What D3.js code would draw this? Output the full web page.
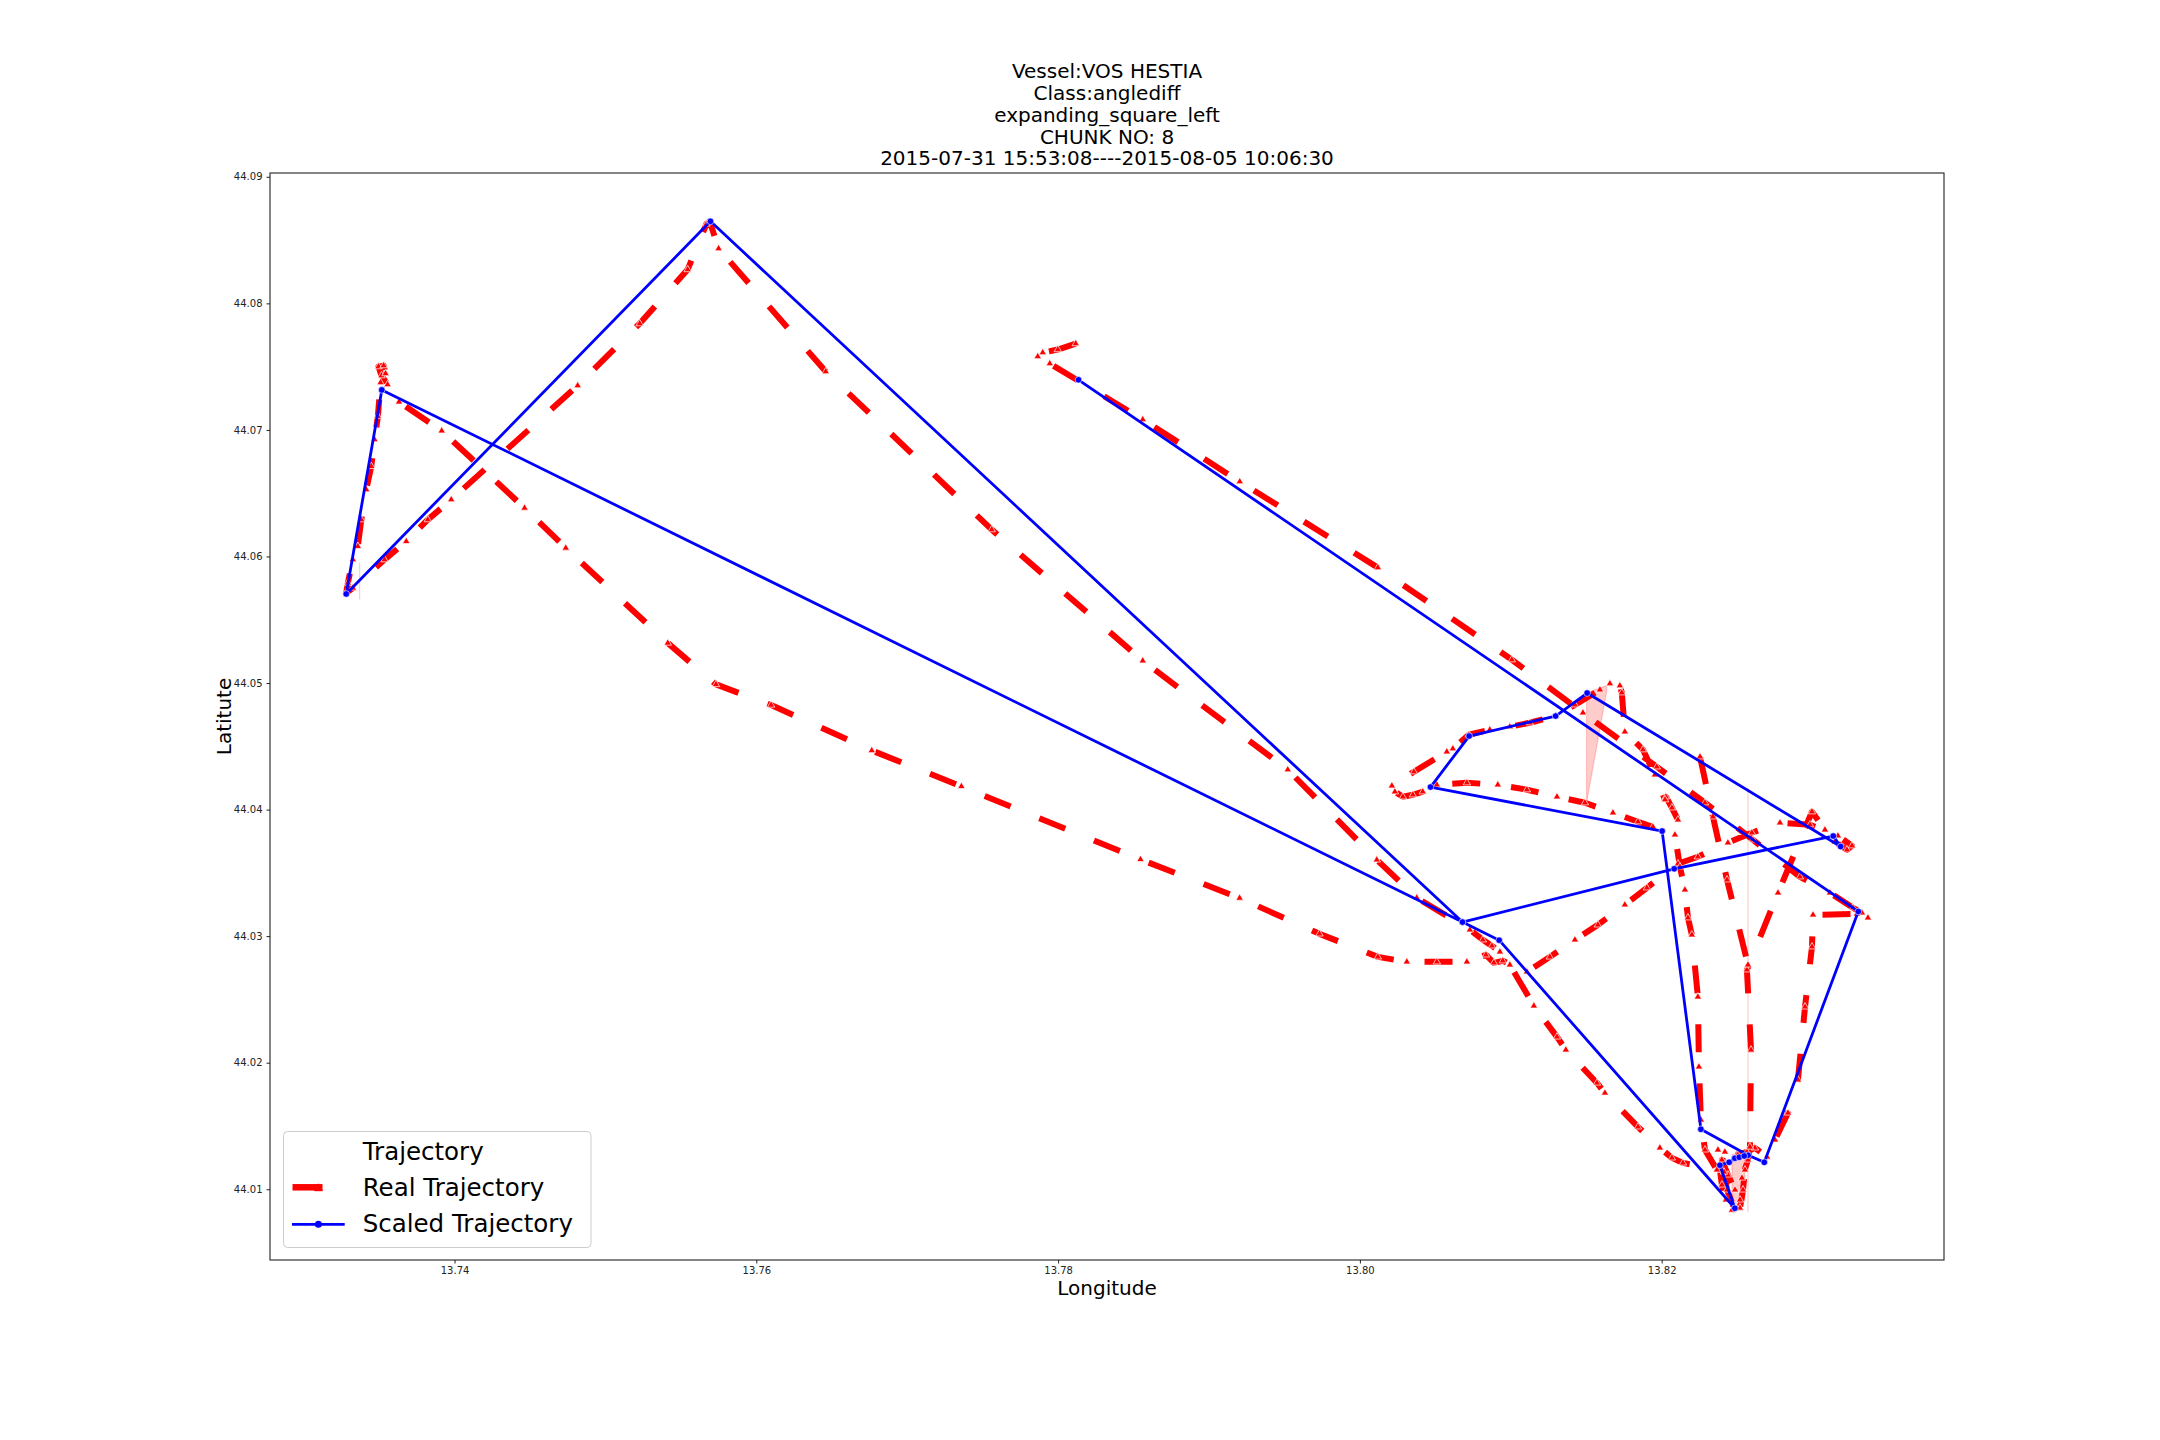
<!DOCTYPE html>
<html><head><meta charset="utf-8">
<script src="https://cdn.jsdelivr.net/npm/d3@7"></script>
<style>body{margin:0;background:#fff}</style>
</head><body>
<svg id="chart" width="2160" height="1440" xmlns="http://www.w3.org/2000/svg"></svg>
<script>
// ---------------- data ----------------
const titleLines = ["Vessel:VOS HESTIA","Class:anglediff","expanding_square_left","CHUNK NO: 8","2015-07-31 15:53:08----2015-08-05 10:06:30"];
const xLabel = "Longitude";
const yLabel = "Latitute";
const legendTitle = "Trajectory";
const seriesNames = ["Real Trajectory","Scaled Trajectory"];
const xTicks = [13.74, 13.76, 13.78, 13.80, 13.82];
const yTicks = [44.01, 44.02, 44.03, 44.04, 44.05, 44.06, 44.07, 44.08, 44.09];
const xDomain = [13.72777, 13.83871];
const yDomain = [44.00441, 44.0903];

// Real trajectory (null = gap)
const realLon = [13.78117,13.77998,13.77898,13.77865,13.77945,13.78561,13.79204,13.80119,13.81007,13.81478,13.81968,13.82287,13.82605,13.82916,13.83115,13.83268,13.83327,13.83367,13.83294,
13.83003,13.82996,13.82950,13.82903,13.82837,13.82751,13.82698,
13.82618,13.82565,13.82505,13.82419,13.82373,13.82386,13.82399,13.82426,13.82466,13.82519,13.82539,13.82552,
13.82399,13.82439,13.82486,13.82519,13.82472,13.82433,13.82413,13.82532,13.82572,
13.82585,13.82592,13.82565,13.82771,13.82996,
13.83082,13.83148,13.83228,13.83261,13.83168,13.82983,13.82784,13.82598,13.82439,13.82240,13.82108,13.81902,13.81756,13.81577,13.81425,13.81259,13.81107,
13.80947,13.80888,13.80835,13.80709,13.80510,13.80311,13.80119,
13.79732,13.79203,13.78546,13.77359,13.76765,13.76098,13.75733,13.75413,13.74737,13.74464,13.73915,13.73632,
13.73556,13.73516,13.73496,13.73530,13.73543,13.73510,
13.73492,13.73470,13.73448,13.73415,13.73382,13.73359,13.73326,13.73293,13.73282,
13.73326,13.73536,13.73680,13.73823,13.73978,13.74816,13.75227,13.75545,13.75669,13.75691,
13.75750,13.76460,13.77560,13.78561,13.79522,13.80112,13.80377,13.80729,
13.80815,13.80875,13.80928,13.80994,13.81153,13.81306,13.81365,13.81571,13.81624,13.81843,13.81988,13.82068,13.82141,13.82366,
13.82287,13.82260,13.82247,13.82240,13.82200,13.82174,13.82154,13.82121,13.82088,13.82108,13.82068,13.82028,
13.81942,13.81843,13.81677,13.81491,13.81306,13.81107,13.80914,13.80709,13.80510,13.80417,13.80351,13.80285,13.80232,13.80212,13.80358,13.80576,13.80616,
13.80722,13.80861,13.80994,13.81127,13.81299,13.81425,13.81591,13.81657,13.81723,13.81736,13.81756,13.81876,13.81955,13.82022,
null,
13.82254,13.82340,13.82433,13.82572];
const realLat = [44.07682,44.07635,44.07611,44.07580,44.07524,44.07082,44.06591,44.05912,44.05184,44.04765,44.04338,44.04054,44.03761,44.03469,44.03342,44.03224,44.03184,44.03145,44.03176,
44.03168,44.02916,44.02441,44.01864,44.01603,44.01390,44.01255,
44.01327,44.01295,44.01271,44.01295,44.01311,44.01153,44.01034,44.00916,44.00836,44.00852,44.00995,44.01153,
44.01232,44.01113,44.00995,44.00916,44.00876,44.00995,44.01137,44.01089,44.01232,
44.01334,44.02101,44.02734,44.03342,44.03983,
44.03840,44.03746,44.03682,44.03714,44.03793,44.03880,44.03896,44.03817,44.03738,44.03627,44.03572,44.03382,44.03248,44.03089,44.02971,44.02836,44.02718,
44.02805,44.02789,44.02852,44.02797,44.02797,44.02797,44.02836,
44.03018,44.03301,44.03606,44.04183,44.04467,44.04826,44.04989,44.05316,44.06067,44.06383,44.06993,44.07221,
44.07358,44.07429,44.07500,44.07508,44.07445,44.07374,
44.07108,44.06923,44.06712,44.06528,44.06291,44.06080,44.05975,44.05791,44.05712,
44.05751,44.05975,44.06119,44.06291,44.06449,44.07350,44.07840,44.08267,44.08627,44.08647,
44.08433,44.07461,44.06212,44.05176,44.04315,44.03603,44.03303,44.03050,
44.02971,44.02923,44.02876,44.02773,44.02449,44.02204,44.02101,44.01840,44.01761,44.01493,44.01327,44.01248,44.01208,44.01153,
44.01311,44.01548,44.01967,44.02520,44.03010,44.03145,44.03366,44.03548,44.03801,44.03919,44.04014,44.04101,
44.03864,44.03904,44.03975,44.04054,44.04101,44.04157,44.04196,44.04212,44.04196,44.04141,44.04117,44.04101,44.04141,44.04188,44.04299,44.04457,44.04481,
44.04591,44.04631,44.04655,44.04686,44.04742,44.04828,44.04947,44.04995,44.04979,44.04923,44.04615,44.04473,44.04275,44.04078,
null,
44.04417,44.03943,44.03445,44.02773];

// Scaled trajectory
const scaledLon = [13.78135,13.83303,13.82680,13.82573,13.82260,13.82003,13.80468,13.80724,13.81297,13.81506,13.83186,13.83137,13.82083,13.80680,13.75696,13.73282,13.73518,13.80680,13.80923,13.82485,13.82386,13.82447,13.82485,13.82514,13.82547];
const scaledLat = [44.07396,44.03195,44.01213,44.01269,44.01474,44.03830,44.04178,44.04581,44.04739,44.04921,44.03708,44.03791,44.03532,44.03111,44.08648,44.05704,44.07316,44.03111,44.02968,44.00850,44.01190,44.01213,44.01245,44.01253,44.01263];

// confidence bands: [lon, latLow, latHigh]
const bandNearPeakCluster = [[13.81502,44.04054,44.04923],[13.81635,44.04931,44.04979]];
const bandVertical = [[13.82572,44.00821,44.04172],[13.82572,44.00821,44.04172]];
const bandLeft = [[13.73371,44.05659,44.05951],[13.73371,44.05659,44.05951]];
const bandBottom = [[13.82466,44.00836,44.01271],[13.82552,44.00916,44.01311]];
const ciBands = [bandNearPeakCluster, bandVertical, bandLeft, bandBottom];

// ---------------- drawing ----------------
const W = 2160, H = 1440;
const M = {left:270, right:1944, top:173, bottom:1260};
const svg = d3.select("#chart");
svg.append("rect").attr("width",W).attr("height",H).attr("fill","#fff");

const x = d3.scaleLinear().domain(xDomain).range([M.left, M.right]);
const y = d3.scaleLinear().domain(yDomain).range([M.bottom, M.top]);

svg.append("clipPath").attr("id","clip").append("rect")
  .attr("x",M.left).attr("y",M.top).attr("width",M.right-M.left).attr("height",M.bottom-M.top);
const plot = svg.append("g").attr("clip-path","url(#clip)");

const area = d3.area().x(d=>x(d[0])).y0(d=>y(d[1])).y1(d=>y(d[2]));
plot.selectAll("path.band").data(ciBands).join("path").attr("class","band")
  .attr("d",area).attr("fill","rgba(255,0,0,0.2)").attr("stroke","rgba(255,0,0,0.2)").attr("stroke-width",1.2);

const real = realLon.map((lon,i)=>({lon, lat: realLat[i]}));
const scaled = scaledLon.map((lon,i)=>({lon, lat: scaledLat[i]}));
const line = d3.line().defined(d=>d.lon!=null).x(d=>x(d.lon)).y(d=>y(d.lat));

plot.append("path").datum(real).attr("d",line).attr("fill","none")
  .attr("stroke","#ff0000").attr("stroke-width",6).attr("stroke-dasharray","28,31")
  .attr("stroke-linejoin","round").attr("stroke-linecap","butt");
const tri = d3.symbol().type(d3.symbolTriangle).size(24);
plot.selectAll("path.rm").data(real.filter(d=>d.lon!=null)).join("path").attr("class","rm")
  .attr("transform",d=>`translate(${x(d.lon)},${y(d.lat)})`).attr("d",tri)
  .attr("fill","#ff0000").attr("stroke","#fff").attr("stroke-width",0.7);

plot.append("path").datum(scaled).attr("d",line).attr("fill","none")
  .attr("stroke","#0000ff").attr("stroke-width",2.8).attr("stroke-linejoin","round").attr("stroke-linecap","square");
plot.selectAll("circle.bm").data(scaled).join("circle").attr("class","bm")
  .attr("cx",d=>x(d.lon)).attr("cy",d=>y(d.lat)).attr("r",3.3)
  .attr("fill","#0000ff").attr("stroke","#fff").attr("stroke-width",0.6);

// axes
const font = "DejaVu Sans, sans-serif";
const xAxis = d3.axisBottom(x).tickValues(xTicks).tickFormat(d3.format(".2f")).tickSize(3.5).tickPadding(3.5);
const yAxis = d3.axisLeft(y).tickValues(yTicks).tickFormat(d3.format(".2f")).tickSize(3.5).tickPadding(4);
const gx = svg.append("g").attr("transform",`translate(0,${M.bottom})`).call(xAxis);
const gy = svg.append("g").attr("transform",`translate(${M.left},0)`).call(yAxis);
[gx,gy].forEach(g=>{
  g.select(".domain").remove();
  g.selectAll(".tick line").attr("stroke","#222").attr("stroke-width",1);
  g.selectAll(".tick text").attr("font-family",font).attr("font-size",10).attr("fill","#222");
});
svg.append("rect").attr("x",M.left).attr("y",M.top).attr("width",M.right-M.left).attr("height",M.bottom-M.top)
  .attr("fill","none").attr("stroke","#222").attr("stroke-width",1.1);

// labels
svg.append("text").attr("x",(M.left+M.right)/2).attr("y",1295).attr("text-anchor","middle")
  .attr("font-family",font).attr("font-size",20).text(xLabel);
svg.append("text").attr("transform",`translate(231,${(M.top+M.bottom)/2}) rotate(-90)`).attr("text-anchor","middle")
  .attr("font-family",font).attr("font-size",20).text(yLabel);

// title
svg.append("g").selectAll("text").data(titleLines).join("text")
  .attr("x",(M.left+M.right)/2).attr("y",(d,i)=>78.3+i*21.75).attr("text-anchor","middle")
  .attr("font-family",font).attr("font-size",20).attr("fill","#000").text(d=>d);

// legend
const lg = svg.append("g");
lg.append("rect").attr("x",283.5).attr("y",1131.5).attr("width",307.5).attr("height",116).attr("rx",4)
  .attr("fill","rgba(255,255,255,0.8)").attr("stroke","#cccccc").attr("stroke-width",1);
lg.append("text").attr("x",362.7).attr("y",1159.5).attr("font-family",font).attr("font-size",24.5).text(legendTitle);
lg.append("text").attr("x",362.7).attr("y",1196).attr("font-family",font).attr("font-size",24.5).text(seriesNames[0]);
lg.append("text").attr("x",362.7).attr("y",1232.3).attr("font-family",font).attr("font-size",24.5).text(seriesNames[1]);
lg.append("line").attr("x1",292.5).attr("x2",344.7).attr("y1",1187.3).attr("y2",1187.3)
  .attr("stroke","#ff0000").attr("stroke-width",6.5).attr("stroke-dasharray","30,40");
lg.append("path").attr("transform","translate(318.5,1188.5)").attr("d",d3.symbol().type(d3.symbolTriangle).size(30)())
  .attr("fill","#ff0000").attr("stroke","#ff0000").attr("stroke-width",0.5);
lg.append("line").attr("x1",292).attr("x2",344.7).attr("y1",1224.3).attr("y2",1224.3)
  .attr("stroke","#0000ff").attr("stroke-width",2.8);
lg.append("circle").attr("cx",318.4).attr("cy",1224.3).attr("r",3.5).attr("fill","#0000ff");
</script>
</body></html>
